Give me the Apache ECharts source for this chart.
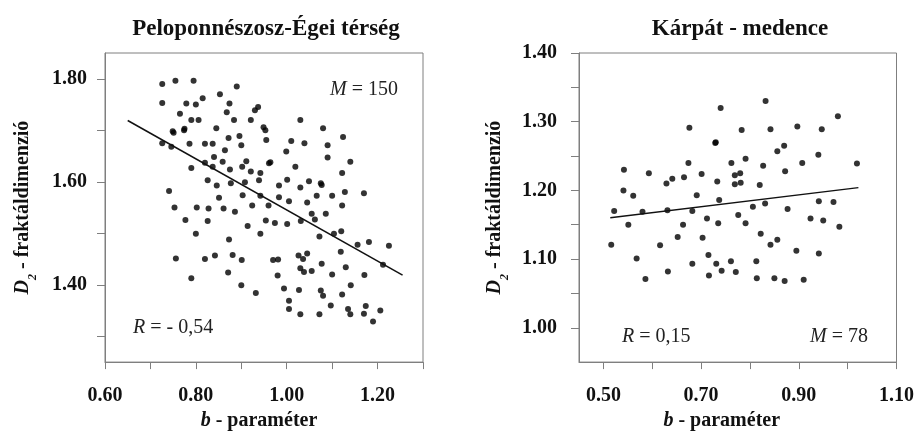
<!DOCTYPE html>
<html>
<head>
<meta charset="utf-8">
<script src="https://cdn.jsdelivr.net/npm/echarts@6/dist/echarts.min.js"></script>
<style>
html, body { margin: 0; padding: 0; background: #fff; }
#chart { width: 917px; height: 436px; }
</style>
</head>
<body>
<div id="chart"></div>
<script>
// Peloponnészosz-Égei térség: [b, D2]
const pelopPoints = [
  [0.726,1.790],[0.755,1.796],[0.795,1.796],[0.890,1.785],[0.726,1.753],[0.815,1.762],[0.853,1.770],
  [0.779,1.752],[0.800,1.750],[0.874,1.752],[0.765,1.732],[0.868,1.735],[0.930,1.739],[0.937,1.745],
  [0.790,1.720],[0.806,1.720],[0.884,1.720],[0.921,1.720],[1.030,1.720],[0.749,1.698],[0.751,1.695],
  [0.774,1.700],[0.775,1.703],[0.845,1.704],[0.949,1.706],[0.953,1.700],[1.080,1.704],[0.896,1.689],
  [0.872,1.685],[1.124,1.687],[0.726,1.675],[0.746,1.668],[0.786,1.674],[0.820,1.674],[0.837,1.674],
  [0.900,1.671],[0.955,1.681],[1.010,1.679],[1.039,1.675],[1.090,1.671],[0.864,1.661],[0.999,1.659],
  [0.840,1.648],[0.859,1.639],[0.911,1.640],[0.820,1.637],[1.090,1.647],[1.140,1.639],[0.790,1.627],
  [0.837,1.629],[0.875,1.624],[0.902,1.629],[0.921,1.620],[0.942,1.617],[0.961,1.636],[0.964,1.638],
  [1.019,1.629],[1.122,1.617],[0.826,1.603],[0.908,1.599],[0.939,1.603],[1.001,1.604],[1.030,1.589],
  [1.049,1.601],[1.077,1.594],[1.075,1.597],[0.846,1.593],[0.877,1.597],[0.983,1.593],[0.741,1.582],
  [0.851,1.569],[0.903,1.574],[0.942,1.573],[0.983,1.570],[1.005,1.562],[1.066,1.573],[1.100,1.573],
  [1.128,1.580],[1.170,1.578],[0.753,1.550],[0.802,1.550],[0.828,1.548],[0.861,1.548],[0.886,1.542],
  [0.924,1.554],[0.960,1.554],[1.045,1.560],[1.122,1.554],[0.777,1.526],[0.826,1.524],[0.914,1.514],
  [0.954,1.525],[0.974,1.520],[1.001,1.518],[1.031,1.524],[1.055,1.538],[1.062,1.527],[1.086,1.538],
  [0.800,1.499],[0.942,1.499],[1.072,1.494],[1.104,1.499],[1.120,1.504],[0.873,1.488],[1.156,1.478],
  [1.181,1.483],[1.225,1.476],[1.119,1.464],[0.756,1.451],[0.820,1.450],[0.842,1.457],[0.881,1.458],
  [0.901,1.448],[0.970,1.448],[0.981,1.449],[1.026,1.457],[1.036,1.450],[1.045,1.461],[1.077,1.441],
  [1.212,1.439],[1.030,1.432],[1.038,1.425],[1.055,1.427],[1.130,1.434],[0.871,1.424],[0.980,1.418],
  [1.100,1.420],[1.171,1.419],[0.790,1.413],[0.900,1.399],[0.994,1.393],[1.141,1.399],[1.027,1.390],
  [0.932,1.384],[1.075,1.389],[1.080,1.379],[1.122,1.381],[1.005,1.369],[1.097,1.360],[1.005,1.353],
  [1.030,1.343],[1.072,1.343],[1.135,1.353],[1.140,1.343],[1.170,1.344],[1.174,1.359],[1.206,1.350],
  [1.190,1.329]
];
const pelopTrend = [[0.650, 1.719], [1.255, 1.419]];

// Kárpát - medence: [b, D2]
const karpatPoints = [
  [0.516,1.121],[0.522,1.170],[0.542,1.230],[0.541,1.200],[0.551,1.150],[0.561,1.192],[0.568,1.101],
  [0.580,1.169],[0.586,1.071],[0.593,1.225],[0.616,1.120],[0.629,1.210],[0.631,1.171],[0.632,1.082],
  [0.641,1.217],[0.652,1.132],[0.665,1.219],[0.663,1.150],[0.674,1.240],[0.676,1.291],[0.682,1.170],
  [0.682,1.093],[0.691,1.193],[0.701,1.224],[0.703,1.131],[0.712,1.159],[0.715,1.106],[0.716,1.076],
  [0.729,1.269],[0.730,1.270],[0.731,1.093],[0.733,1.213],[0.735,1.152],[0.737,1.186],[0.740,1.320],
  [0.742,1.083],[0.761,1.097],[0.762,1.240],[0.769,1.222],[0.771,1.081],[0.769,1.209],[0.776,1.164],
  [0.780,1.225],[0.781,1.211],[0.783,1.288],[0.791,1.246],[0.791,1.152],[0.806,1.176],[0.813,1.097],
  [0.814,1.072],[0.820,1.208],[0.822,1.137],[0.827,1.236],[0.831,1.181],[0.832,1.330],[0.842,1.121],
  [0.842,1.289],[0.850,1.072],[0.856,1.128],[0.856,1.257],[0.870,1.265],[0.872,1.228],[0.877,1.173],
  [0.871,1.068],[0.895,1.112],[0.897,1.293],[0.907,1.240],[0.910,1.070],[0.924,1.159],[0.940,1.252],
  [0.941,1.184],[0.941,1.108],[0.947,1.289],[0.950,1.156],[0.971,1.183],[0.980,1.308],[0.983,1.147],
  [1.019,1.239]
];
const karpatTrend = [[0.514, 1.160], [1.022, 1.204]];

// ticks and labels
const pelopXTicks = [0.6, 0.7, 0.8, 0.9, 1.0, 1.1, 1.2, 1.3];
const pelopXLabels = [0.6, 0.8, 1.0, 1.2];
const pelopYTicks = [1.3, 1.4, 1.5, 1.6, 1.7, 1.8];
const pelopYLabels = [1.4, 1.6, 1.8];
const karpatXTicks = [0.5, 0.6, 0.7, 0.8, 0.9, 1.0, 1.1];
const karpatXLabels = [0.5, 0.7, 0.9, 1.1];
const karpatYTicks = [1.0, 1.05, 1.1, 1.15, 1.2, 1.25, 1.3, 1.35, 1.4];
const karpatYLabels = [1.0, 1.1, 1.2, 1.3, 1.4];

const serif = "'Liberation Serif', 'Times New Roman', serif";
const axisGray = '#7f7f7f';

function xAxis(grid, min, max, ticks, labels, namePad) {
  return {
    type: 'value', gridIndex: grid, min: min, max: max,
    splitLine: { show: false },
    axisLine: { show: true, lineStyle: { color: axisGray, width: 1 } },
    axisTick: { show: true, length: 7, customValues: ticks, lineStyle: { color: axisGray } },
    axisLabel: {
      customValues: labels, margin: 24,
      color: '#111', fontFamily: serif, fontWeight: 'bold', fontSize: 20,
      formatter: v => v.toFixed(2)
    },
    name: '{i|b}{n| - paraméter}', nameLocation: 'middle', nameGap: 44,
    nameTextStyle: {
      padding: namePad,
      rich: {
        i: { fontFamily: serif, fontStyle: 'italic', fontWeight: 'bold', fontSize: 20, color: '#111' },
        n: { fontFamily: serif, fontWeight: 'bold', fontSize: 20, color: '#111' }
      }
    }
  };
}

function yAxis(grid, min, max, ticks, labels, labelMargin, nameGap) {
  return {
    type: 'value', gridIndex: grid, min: min, max: max,
    splitLine: { show: false },
    axisLine: { show: true, lineStyle: { color: axisGray, width: 1 } },
    axisTick: { show: true, length: 8, customValues: ticks, lineStyle: { color: axisGray } },
    axisLabel: {
      customValues: labels, margin: labelMargin,
      color: '#111', fontFamily: serif, fontWeight: 'bold', fontSize: 20,
      formatter: v => v.toFixed(2)
    },
    name: '{i|D}{s|2}{n| - fraktáldimenzió}', nameLocation: 'middle', nameRotate: 90, nameGap: nameGap,
    nameTextStyle: {
      rich: {
        i: { fontFamily: serif, fontStyle: 'italic', fontWeight: 'bold', fontSize: 20, color: '#111' },
        s: { fontFamily: serif, fontStyle: 'italic', fontWeight: 'bold', fontSize: 12, color: '#111', verticalAlign: 'bottom', padding: [0, 0, -6, 0] },
        n: { fontFamily: serif, fontWeight: 'bold', fontSize: 20, color: '#111' }
      }
    }
  };
}

function note(x, y, text) {
  return {
    type: 'text', x: x, y: y,
    style: {
      text: text, align: 'left', verticalAlign: 'middle',
      font: '20px ' + serif, fill: '#222',
      rich: {
        i: { fontFamily: serif, fontStyle: 'italic', fontSize: 20, fill: '#222' },
        n: { fontFamily: serif, fontSize: 20, fill: '#222' }
      }
    }
  };
}

const chart = echarts.init(document.getElementById('chart'));
chart.setOption({
  backgroundColor: '#fff',
  animation: false,
  title: [
    { text: 'Peloponnészosz-Égei térség', left: 261, top: 13, textAlign: 'center',
      textStyle: { fontFamily: serif, fontWeight: 'bold', fontSize: 23, color: '#111' } },
    { text: 'Kárpát - medence', left: 735, top: 13, textAlign: 'center',
      textStyle: { fontFamily: serif, fontWeight: 'bold', fontSize: 23, color: '#111' } }
  ],
  grid: [
    { left: 105, top: 53, width: 318, height: 315, show: true, borderColor: axisGray, borderWidth: 1 },
    { left: 579, top: 53, width: 318, height: 318, show: true, borderColor: axisGray, borderWidth: 1 }
  ],
  xAxis: [
    xAxis(0, 0.6, 1.3, pelopXTicks, pelopXLabels, [0, 10, 0, 0]),
    xAxis(1, 0.45, 1.1, karpatXTicks, karpatXLabels, [0, 32, 0, 0])
  ],
  yAxis: [
    yAxis(0, 1.25, 1.85, pelopYTicks, pelopYLabels, 18, 72),
    yAxis(1, 0.95, 1.40, karpatYTicks, karpatYLabels, 22, 74)
  ],
  graphic: [
    note(330, 90, '{i|M}{n| = 150}'),
    note(133, 328, '{i|R}{n| = - 0,54}'),
    note(622, 337, '{i|R}{n| = 0,15}'),
    note(810, 337, '{i|M}{n| = 78}')
  ],
  series: [
    { type: 'scatter', xAxisIndex: 0, yAxisIndex: 0, data: pelopPoints,
      symbolSize: 6, itemStyle: { color: '#000' } },
    { type: 'line', xAxisIndex: 0, yAxisIndex: 0, data: pelopTrend, symbol: 'none',
      lineStyle: { color: '#111', width: 1.5 } },
    { type: 'scatter', xAxisIndex: 1, yAxisIndex: 1, data: karpatPoints,
      symbolSize: 6, itemStyle: { color: '#000' } },
    { type: 'line', xAxisIndex: 1, yAxisIndex: 1, data: karpatTrend, symbol: 'none',
      lineStyle: { color: '#111', width: 1.5 } }
  ]
});
</script>
</body>
</html>
